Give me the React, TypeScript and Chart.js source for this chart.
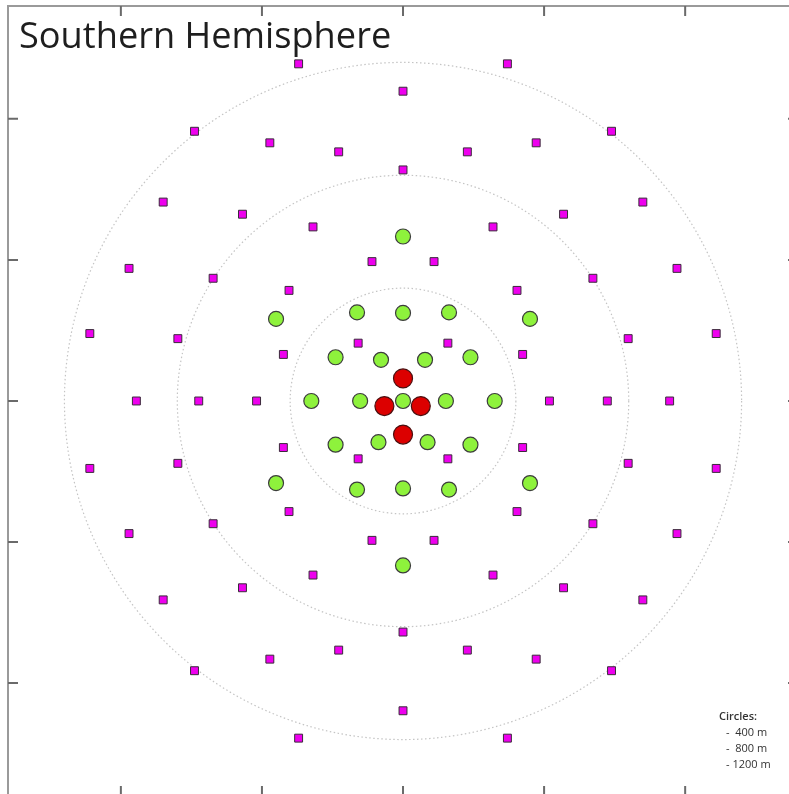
import React, { useEffect, useRef } from "react";
import { Chart, registerables } from "chart.js";

Chart.register(...registerables);

const TITLE = "Southern Hemisphere";
const LEGEND_LINES = ["Circles:", "-  400 m", "-  800 m", "- 1200 m"];
// full frame spans -1400..1400 m; the visible window cuts the right and bottom edges
const FRAME_LIMIT = 1400;
const X_MIN = -1400;
const X_MAX = 1368;
const Y_MIN = -1393;
const Y_MAX = 1400;
const TICKS = [-1000, -500, 0, 500, 1000];
const CIRCLE_RADII = [400, 800, 1200];

// Small-size telescopes (magenta squares), metres
const SST_X = [
  -370, 370, 0, -739, 739, -472, 472, -228, 228, 0,
  -850, 850, -569, 569, -319, 319, -110, 110, -971, 971,
  -673, 673, -404, 404, -1110, 1110, -798, 798, -159, 159,
  -424, 424, -945, -724, -519, 519, 724, 945, -424, 424,
  -159, 159, -1110, 1110, -798, 798, -404, 404, -673, 673,
  -971, 971, -110, 110, -319, 319, -569, 569, -850, 850,
  0, -228, 228, -472, 472, -739, 739, 0, -370, 370,
];
const SST_Y = [
  1195, 1195, 1098, 956, 956, 915, 915, 883, 883, 819,
  705, 705, 662, 662, 617, 617, 494, 494, 470, 470,
  435, 435, 392, 392, 239, 239, 221, 221, 205, 205,
  165, 165, 0, 0, 0, 0, 0, 0, -165, -165,
  -205, -205, -239, -239, -221, -221, -392, -392, -435, -435,
  -470, -470, -494, -494, -617, -617, -662, -662, -705, -705,
  -819, -883, -883, -915, -915, -956, -956, -1098, -1195, -1195,
];

// Medium-size telescopes (green circles), metres
const MST_X = [
  0, -450, 450, -163, 0, 163, -239, -78, 78, 239,
  -325, -152, 0, 152, 325, -239, -87, 87, 239, -450,
  450, -163, 0, 163, 0,
];
const MST_Y = [
  583, 291, 291, 314, 312, 314, 155, 146, 146, 155,
  0, 0, 0, 0, 0, -155, -146, -146, -155, -291,
  -291, -314, -310, -314, -583,
];

// Large-size telescopes (red circles), metres
const LST_X = [0, -66, 63, 0];
const LST_Y = [80, -18, -18, -119];

const toPoints = (xs: number[], ys: number[]) => xs.map((x, i) => ({ x, y: ys[i] }));

const decorPlugin = {
  id: "decor",
  beforeDatasetsDraw(chart: any) {
    const { ctx, scales } = chart;
    const xs = scales.x;
    const ys = scales.y;
    const cx = xs.getPixelForValue(0);
    const cy = ys.getPixelForValue(0);
    ctx.save();
    ctx.strokeStyle = "#c4c4c4";
    ctx.lineWidth = 1.2;
    ctx.setLineDash([1.5, 2.5]);
    CIRCLE_RADII.forEach((r) => {
      const rp = xs.getPixelForValue(r) - cx;
      ctx.beginPath();
      ctx.arc(cx, cy, rp, 0, Math.PI * 2);
      ctx.stroke();
    });
    ctx.restore();
  },
  afterDraw(chart: any) {
    const { ctx, scales } = chart;
    const left = scales.x.getPixelForValue(-FRAME_LIMIT);
    const right = scales.x.getPixelForValue(FRAME_LIMIT);
    const top = scales.y.getPixelForValue(FRAME_LIMIT);
    const bottom = scales.y.getPixelForValue(-FRAME_LIMIT);
    ctx.save();
    // frame
    ctx.strokeStyle = "#9a9a9a";
    ctx.lineWidth = 2;
    ctx.strokeRect(left, top, right - left, bottom - top);
    // inner ticks
    ctx.strokeStyle = "#6a6a6a";
    ctx.lineWidth = 2;
    const len = 10;
    TICKS.forEach((t) => {
      const px = scales.x.getPixelForValue(t);
      const py = scales.y.getPixelForValue(t);
      ctx.beginPath();
      ctx.moveTo(px, top);
      ctx.lineTo(px, top + len);
      ctx.moveTo(px, bottom);
      ctx.lineTo(px, bottom - len);
      ctx.moveTo(left, py);
      ctx.lineTo(left + len, py);
      ctx.moveTo(right, py);
      ctx.lineTo(right - len, py);
      ctx.stroke();
    });
    // title
    ctx.fillStyle = "#1e1e1e";
    ctx.font = "36.2px 'Open Sans'";
    ctx.textBaseline = "alphabetic";
    ctx.textAlign = "left";
    ctx.fillText(TITLE, left + 11, top + 42);
    // circles note
    ctx.fillStyle = "#333333";
    LEGEND_LINES.forEach((line, i) => {
      ctx.font = i === 0 ? "600 11px 'Open Sans'" : "11px 'Open Sans'";
      ctx.textBaseline = "middle";
      const x = i === 0 ? 711 : 718;
      const y = 711 + i * 16;
      ctx.fillText(line, left + x, top + y);
    });
    ctx.restore();
  },
};

export default function App() {
  const canvasRef = useRef<HTMLCanvasElement | null>(null);

  useEffect(() => {
    const canvas = canvasRef.current;
    if (!canvas) return;
    const chart = new Chart(canvas, {
      type: "scatter",
      data: {
        datasets: [
          {
            label: "SST",
            data: toPoints(SST_X, SST_Y),
            pointStyle: "rect",
            pointRadius: 5.6,
            backgroundColor: "#ee00ee",
            borderColor: "#3a2a3a",
            borderWidth: 1,
          },
          {
            label: "MST",
            data: toPoints(MST_X, MST_Y),
            pointStyle: "circle",
            pointRadius: 7.5,
            backgroundColor: "#8ef23c",
            borderColor: "#3c3c3c",
            borderWidth: 1.2,
          },
          {
            label: "LST",
            data: toPoints(LST_X, LST_Y),
            pointStyle: "circle",
            pointRadius: 9.5,
            backgroundColor: "#dc0000",
            borderColor: "#4a1010",
            borderWidth: 1.2,
          },
        ],
      },
      options: {
        responsive: false,
        animation: false,
        layout: { autoPadding: false, padding: { left: 1, top: 1, right: 0, bottom: 0 } },
        plugins: {
          legend: { display: false },
          tooltip: { enabled: false },
          title: { display: false },
        },
        scales: {
          x: { type: "linear", min: X_MIN, max: X_MAX, display: false },
          y: { type: "linear", min: Y_MIN, max: Y_MAX, display: false },
        },
      },
      plugins: [decorPlugin],
    });
    return () => chart.destroy();
  }, []);

  return (
    <div style={{ position: "fixed", left: 7, top: 5, width: 782, height: 789, background: "#fff" }}>
      <canvas ref={canvasRef} width={782} height={789} style={{ display: "block" }} />
    </div>
  );
}
